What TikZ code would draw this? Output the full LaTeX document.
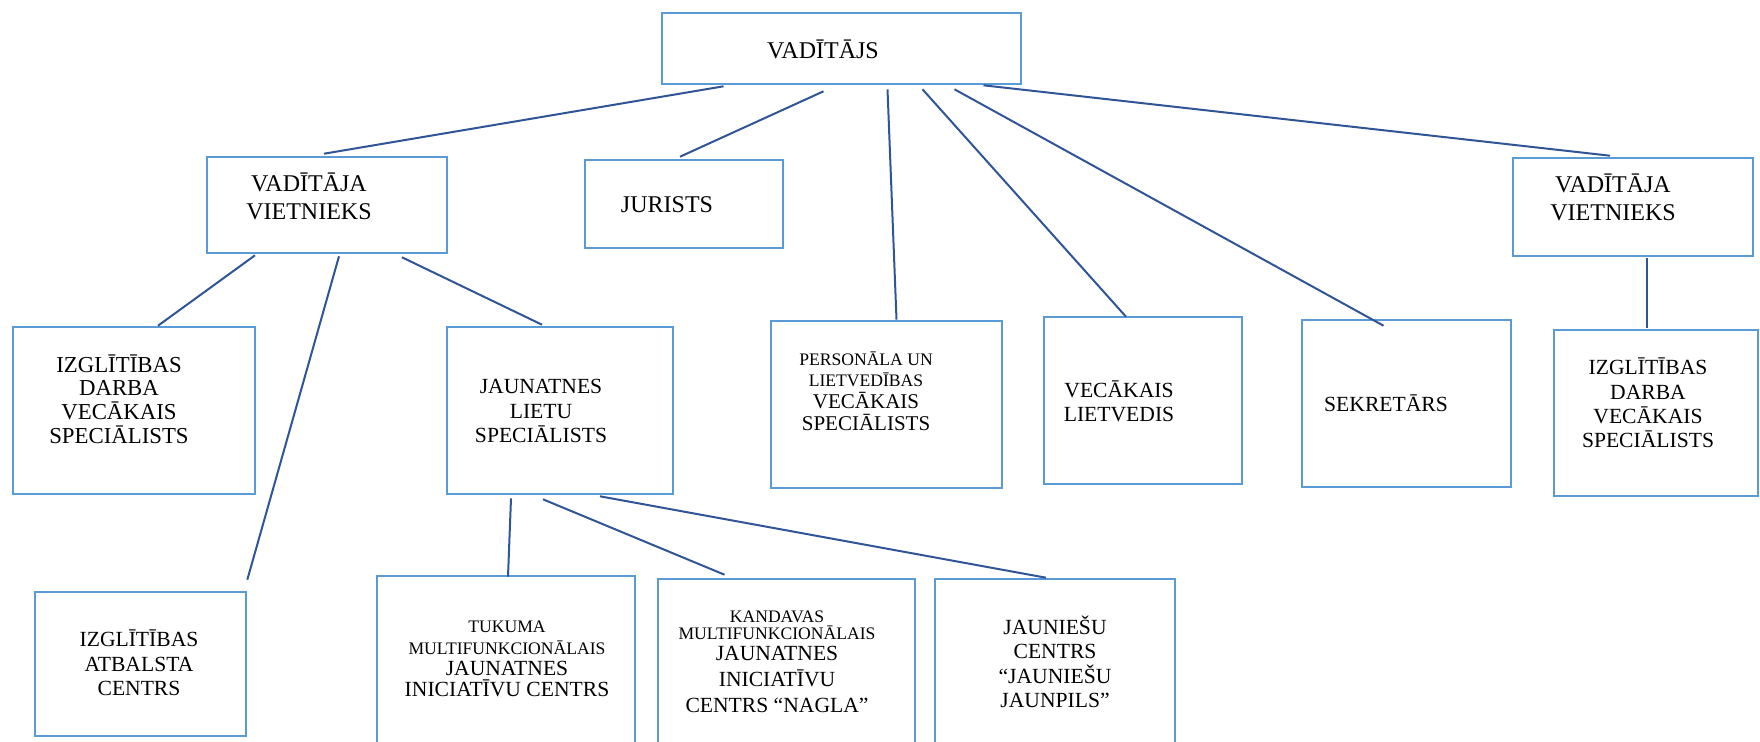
\documentclass[tikz,border=0pt]{standalone}
\usepackage{fontspec}
\setmainfont{Liberation Serif}
\usetikzlibrary{calc}
\definecolor{boxblue}{HTML}{5B9BD5}
\definecolor{lineblue}{HTML}{2F5597}
\newcommand{\smalltxt}[1]{{\fontsize{8.8}{10}\selectfont #1}}
\begin{document}
\begin{tikzpicture}[x=0.5pt,y=-0.5pt,
    box/.style 2 args={draw=boxblue, line width=1.3pt, inner sep=0pt,
      minimum width=#1*0.5pt, minimum height=#2*0.5pt},
    txt/.style={align=center, inner sep=0pt, font=\fontsize{10.8}{12.2}\selectfont},
    big/.style={font=\fontsize{12}{14}\selectfont},
    link/.style={draw=lineblue, line width=1pt}]
    \useasboundingbox (0,0) rectangle (1760,741);
    \clip (0,0) rectangle (1760,741);
    % top
    \node[box={359}{71}] (vad) at (841.5,48.5) {};
    \node[txt,big] (vadT) at (823,49) {VADĪTĀJS};
    % first level
    \node[box={240}{96}] (vietL) at (327,205) {};
    \node[txt,big] (vietLT) at (309,196) {VADĪTĀJA\\VIETNIEKS};
    \node[box={198}{88}] (jur) at (684,204) {};
    \node[txt,big] (jurT) at (667,205) {JURISTS};
    \node[box={240}{98}] (vietR) at (1633,207) {};
    \node[txt,big] (vietRT) at (1613,197) {VADĪTĀJA\\VIETNIEKS};
    % second level
    \node[box={242}{167}] (izgL) at (134,410.5) {};
    \node[txt,font=\fontsize{11.4}{11.8}\selectfont] (izgLT) at (119,399) {IZGLĪTĪBAS\\DARBA\\VECĀKAIS\\SPECIĀLISTS};
    \node[box={226}{167}] (jaun) at (560,410.5) {};
    \node[txt] (jaunT) at (541,411) {JAUNATNES\\LIETU\\SPECIĀLISTS};
    \node[box={231}{167}] (pers) at (886.5,404.5) {};
    \node[txt,font=\fontsize{10.5}{10.8}\selectfont] (persT) at (866,391)
      {\smalltxt{PERSONĀLA UN}\\\smalltxt{LIETVEDĪBAS}\\VECĀKAIS\\SPECIĀLISTS};
    \node[box={198}{167}] (lietv) at (1143,400.5) {};
    \node[txt] (lietvT) at (1119,401) {VECĀKAIS\\LIETVEDIS};
    \node[box={209}{167}] (sekr) at (1406.5,403.5) {};
    \node[txt] (sekrT) at (1386,403) {SEKRETĀRS};
    \node[box={204}{166}] (izgR) at (1656,413) {};
    \node[txt] (izgRT) at (1648,403) {IZGLĪTĪBAS\\DARBA\\VECĀKAIS\\SPECIĀLISTS};
    % third level
    \node[box={211}{144}] (atb) at (140.5,664) {};
    \node[txt] (atbT) at (139,663) {IZGLĪTĪBAS\\ATBALSTA\\CENTRS};
    \node[box={258}{184}] (tuk) at (506,668) {};
    \node[txt,font=\fontsize{10.8}{10.6}\selectfont] (tukT) at (507,659)
      {\smalltxt{TUKUMA}\\\smalltxt{MULTIFUNKCIONĀLAIS}\\JAUNATNES\\INICIATĪVU CENTRS};
    \node[box={257}{181}] (kand) at (786.5,669.5) {};
    \node[txt,font=\fontsize{10.8}{13}\selectfont] (kandT) at (777,662)
      {\smalltxt{KANDAVAS}\\[-4.6pt]\smalltxt{MULTIFUNKCIONĀLAIS}\\[-2.4pt]JAUNATNES\\INICIATĪVU\\CENTRS “NAGLA”};
    \node[box={240}{181}] (jnp) at (1055,669.5) {};
    \node[txt] (jnpT) at (1055,662) {JAUNIEŠU\\CENTRS\\“JAUNIEŠU\\JAUNPILS”};
    % connectors
    \draw[link] ($(vad.south)+(-118,1)$) -- ($(vietL.north)+(-3,-2)$);
    \draw[link] ($(vad.south)+(-18,6)$) -- ($(jur.north)+(-4,-2)$);
    \draw[link] ($(vad.south)+(46,4)$) -- ($(pers.north)+(10,0)$);
    \draw[link] ($(vad.south)+(81,4)$) -- ($(lietv.north)+(-17,1)$);
    \draw[link] ($(vad.south)+(113,4)$) -- ($(sekr.north)+(-23,7)$);
    \draw[link] ($(vad.south)+(142,0)$) -- ($(vietR.north)+(-23,-1)$);
    \draw[link] ($(vietL.south)+(-72,1)$) -- ($(izgL.north)+(24,0)$);
    \draw[link] ($(vietL.south)+(12,2)$) -- ($(atb.north east)+(0,-11)$);
    \draw[link] ($(vietL.south)+(75,3)$) -- ($(jaun.north)+(-18,-1)$);
    \draw[link] ($(vietR.south)+(14,1)$) -- ($(izgR.north)+(-9,-1)$);
    \draw[link] ($(jaun.south)+(-49,3)$) -- ($(tuk.north)+(2,2)$);
    \draw[link] ($(jaun.south)+(-17,4)$) -- ($(kand.north)+(-62,-3)$);
    \draw[link] ($(jaun.south)+(40,1)$) -- ($(jnp.north)+(-9,0)$);
\end{tikzpicture}
\end{document}
